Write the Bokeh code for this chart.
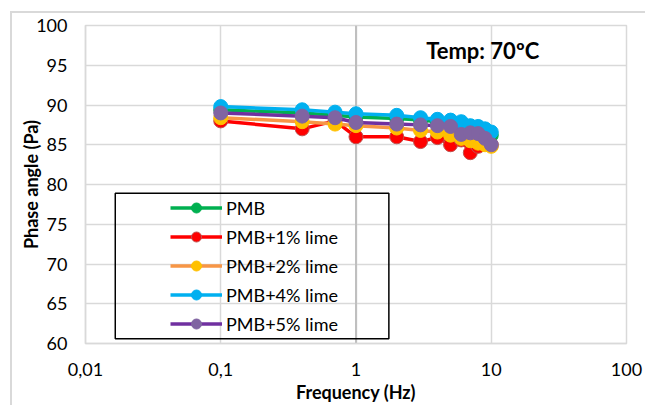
from bokeh.plotting import figure
from bokeh.models import (FixedTicker, CustomJSTickFormatter, Span, BoxAnnotation,
                          Legend, LegendItem, Label, Range1d)
from bokeh.embed import file_html
from bokeh.resources import INLINE

# ---- data ----
freq = [0.1, 0.4, 0.7, 1, 2, 3, 4, 5, 6, 7, 8, 9, 10]
pmb = [89.4, 89.0, 88.7, 88.5, 88.3, 88.1, 87.9, 87.8, 87.6, 87.3, 87.1, 86.7, 86.2]
pmb_1 = [88.0, 87.0, 88.0, 86.0, 86.0, 85.4, 85.9, 85.0, 85.6, 84.0, 84.8, 85.2, 85.0]
pmb_2 = [88.4, 87.9, 87.6, 87.4, 87.1, 86.8, 86.6, 86.2, 85.8, 85.5, 85.2, 85.0, 84.8]
pmb_4 = [89.8, 89.4, 89.1, 88.9, 88.7, 88.4, 88.2, 88.1, 87.9, 87.4, 87.3, 87.0, 86.6]
pmb_5 = [89.0, 88.6, 88.4, 87.8, 87.6, 87.5, 87.4, 87.3, 86.3, 86.5, 86.4, 85.8, 85.0]
labels = ["PMB", "PMB+1% lime", "PMB+2% lime", "PMB+4% lime", "PMB+5% lime"]
x_ticks = [0.01, 0.1, 1, 10, 100]
y_ticks = [60, 65, 70, 75, 80, 85, 90, 95, 100]

# line colour, marker fill, marker edge
styles = [
    ("#00B050", "#00B050", "#00B050"),
    ("#FF0000", "#FF0000", "#C0504D"),
    ("#F79646", "#FFC000", "#FFC000"),
    ("#00B0F0", "#00B0F0", "#00B0F0"),
    ("#7030A0", "#8064A2", "#8064A2"),
]
values = [pmb, pmb_1, pmb_2, pmb_4, pmb_5]

FONT = "Lato"

p = figure(width=645, height=405, x_axis_type="log",
           x_range=Range1d(0.01, 100), y_range=Range1d(60, 100),
           output_backend="svg", toolbar_location=None,
           min_border_left=85, min_border_right=19,
           min_border_top=25, min_border_bottom=60)

p.outline_line_color = "#d9d9d9"
p.outline_line_width = 1.5
p.background_fill_color = "#ffffff"
p.border_fill_alpha = 0
# outer chart border (top and left edges visible in the reference), drawn as host background
p.styles = {
    "background": ("linear-gradient(#d9d9d9, #d9d9d9) 10px 11px / 2px 100% no-repeat, "
                   "linear-gradient(#d9d9d9, #d9d9d9) 10px 11px / 100% 2px no-repeat, "
                   "#ffffff"),
}

# axes
p.xaxis.ticker = FixedTicker(ticks=x_ticks, minor_ticks=[])
p.yaxis.ticker = FixedTicker(ticks=y_ticks, minor_ticks=[])
p.xaxis.formatter = CustomJSTickFormatter(code="return tick.toString().replace('.', ',');")
for ax in (p.xaxis[0], p.yaxis[0]):
    ax.axis_line_color = "#d9d9d9"
    ax.axis_line_width = 1.5
    ax.major_tick_line_color = None
    ax.minor_tick_line_color = None
    ax.major_tick_out = 0
    ax.major_tick_in = 0
    ax.major_label_text_font = FONT
    ax.major_label_text_font_size = "18px"
    ax.major_label_text_color = "#000000"
    ax.axis_label_text_font = FONT
    ax.axis_label_text_font_size = "18px"
    ax.axis_label_text_font_style = "bold"
    ax.axis_label_text_color = "#000000"
p.yaxis.major_label_standoff = 18
p.xaxis.major_label_standoff = 19
p.xaxis.axis_label = "Frequency (Hz)"
p.yaxis.axis_label = "Phase angle (Pa)"
p.xaxis.axis_label_standoff = 2
p.yaxis.axis_label_standoff = -9

p.xgrid.ticker = FixedTicker(ticks=x_ticks, minor_ticks=[])
p.ygrid.ticker = FixedTicker(ticks=y_ticks, minor_ticks=[])
for g in (p.xgrid[0], p.ygrid[0]):
    g.grid_line_color = "#d9d9d9"
    g.grid_line_width = 1.5

p.add_layout(Span(location=1, dimension="height", line_color="#bfbfbf",
                  line_width=2, level="underlay"))

items = []
for lab, vals, (lc, mf, me) in zip(labels, values, styles):
    r1 = p.line(freq, vals, line_color=lc, line_width=3.5)
    r2 = p.scatter(freq, vals, size=14, fill_color=mf, line_color=me, line_width=1)
    items.append(LegendItem(label=lab, renderers=[r1, r2]))

legend = Legend(items=items, location=(85, 7))
legend.border_line_color = None
legend.background_fill_alpha = 0
legend.padding = 0
legend.margin = 0
legend.spacing = 4
legend.label_height = 25
legend.glyph_height = 25
legend.glyph_width = 52
legend.label_standoff = 4
legend.label_text_font = FONT
legend.label_text_font_size = "18px"
legend.label_text_color = "#000000"
p.add_layout(legend)

# legend frame (transparent, black border)
p.add_layout(BoxAnnotation(left=0.0166, right=1.75, bottom=60.6, top=78.9,
                           fill_alpha=0, line_color="#000000", line_width=1.5,
                           line_alpha=1, level="overlay"))

p.add_layout(Label(x=3.3, y=96.9, text="Temp: 70ºC", text_font=FONT,
                   text_font_style="bold", text_font_size="22px",
                   text_baseline="middle", text_color="#000000"))

open("out.html", "w").write(file_html(p, INLINE))
